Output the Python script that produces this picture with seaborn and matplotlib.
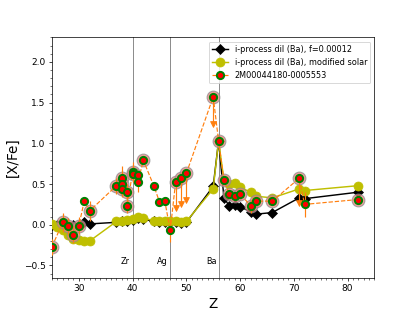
import numpy as np
import pandas as pd
import matplotlib
matplotlib.use("Agg")
import matplotlib.pyplot as plt
import seaborn as sns
from matplotlib.ticker import MultipleLocator

# ---- model data ----
z_model = [25, 26, 27, 28, 29, 30, 31, 32, 37, 38, 39, 40, 41, 42, 44, 45, 46, 47, 48,
           49, 50, 55, 56, 57, 58, 59, 60, 62, 63, 66, 71, 72, 82]
model_f = [0.00, 0.00, 0.02, 0.00, 0.00, 0.00, 0.03, 0.01, 0.03, 0.04, 0.05, 0.06, 0.08,
           0.07, 0.04, 0.03, 0.03, 0.03, 0.03, 0.02, 0.03, 0.47, 1.03, 0.33, 0.23, 0.24,
           0.22, 0.16, 0.13, 0.15, 0.33, 0.32, 0.40]
model_solar = [0.01, -0.03, -0.07, -0.13, -0.17, -0.19, -0.20, -0.20, 0.04, 0.05, 0.06,
               0.07, 0.09, 0.08, 0.05, 0.04, 0.04, 0.04, 0.04, 0.03, 0.04, 0.44, 1.03,
               0.55, 0.50, 0.51, 0.46, 0.40, 0.35, 0.33, 0.44, 0.42, 0.48]

# ---- observed star ----
z_obs = [25, 27, 28, 29, 30, 31, 32, 37, 38, 38, 38, 39, 39, 40, 40, 41, 41, 42, 44, 45,
         46, 47, 48, 49, 50, 55, 56, 57, 58, 59, 60, 62, 63, 66, 71, 72, 82]
xfe_obs = [-0.27, 0.03, -0.02, -0.12, -0.01, 0.29, 0.17, 0.48, 0.57, 0.50, 0.44, 0.40,
           0.23, 0.65, 0.62, 0.61, 0.53, 0.79, 0.47, 0.28, 0.29, -0.07, 0.52, 0.58, 0.63,
           1.57, 1.03, 0.55, 0.38, 0.35, 0.38, 0.23, 0.29, 0.29, 0.57, 0.25, 0.31]
err_obs = [0.10, 0.12, 0.10, 0.10, 0.10, 0.00, 0.12, 0.10, 0.15, 0.10, 0.10, 0.10, 0.08,
           0.12, 0.10, 0.00, 0.13, 0.00, 0.00, 0.00, 0.00, 0.14, 0.00, 0.00, 0.00, 0.00,
           0.05, 0.05, 0.05, 0.05, 0.05, 0.08, 0.05, 0.05, 0.00, 0.15, 0.05]
halo_obs = [1, 1, 1, 1, 1, 0, 1, 1, 1, 1, 1, 1, 1, 1, 1, 0, 0, 1, 0, 0, 0, 0, 1, 1, 1,
            1, 1, 1, 1, 1, 1, 1, 1, 1, 1, 0, 1]
# upper limits
z_ul = [48, 49, 50, 55, 71]
xfe_ul = [0.52, 0.58, 0.63, 1.57, 0.57]
len_ul = [0.32, 0.32, 0.32, 0.33, 0.30]

elem_z = [40, 47, 56]
elem_lab = ["Zr", "Ag", "Ba"]

fig, ax = plt.subplots(figsize=(6.4, 4.8), dpi=65)

for z in elem_z:
    ax.axvline(z, color="0.45", lw=0.9, zorder=1)
for z, lab in zip(elem_z, elem_lab):
    ax.text(z - 1.4, -0.48, lab, ha="center", va="baseline", fontsize=9)

dm = pd.DataFrame({"Z": z_model, "f": model_f, "solar": model_solar})
sns.lineplot(data=dm, x="Z", y="f", ax=ax, color="black", marker="D", markersize=8,
             markeredgecolor="black", lw=1.6, label="i-process dil (Ba), f=0.00012",
             zorder=3)
sns.lineplot(data=dm, x="Z", y="solar", ax=ax, color="y", marker="o", markersize=10,
             markeredgecolor="y", lw=1.6, label="i-process dil (Ba), modified solar",
             zorder=4)

do = pd.DataFrame({"Z": z_obs, "v": xfe_obs, "e": err_obs, "h": halo_obs})
dh = do[do["h"] == 1]
sns.scatterplot(data=dh, x="Z", y="v", ax=ax, s=200, color="lightcoral",
                edgecolor="0.55", linewidth=1.2, alpha=0.75, zorder=5, legend=False)

ax.errorbar(z_ul, xfe_ul, yerr=[len_ul, [0] * len(z_ul)], fmt="none", ecolor="C1",
            elinewidth=1.3, zorder=5)
ax.scatter(np.array(z_ul), np.array(xfe_ul) - np.array(len_ul), marker="v", s=40,
           color="C1", zorder=5)

ax.errorbar(do["Z"], do["v"], yerr=do["e"], fmt="o--", color="C1", ecolor="C1",
            elinewidth=1.3, lw=1.3, markerfacecolor="red", markeredgecolor="green",
            markeredgewidth=2.2, markersize=8, zorder=6, label="2M00044180-0005553")

ax.set_xlim(25, 85)
ax.set_ylim(-0.65, 2.3)
ax.xaxis.set_major_locator(MultipleLocator(10))
ax.xaxis.set_minor_locator(MultipleLocator(1))
ax.yaxis.set_major_locator(MultipleLocator(0.5))
ax.yaxis.set_minor_locator(MultipleLocator(0.1))
ax.set_xlabel("Z", fontsize=15)
ax.set_ylabel("[X/Fe]", fontsize=15)
ax.legend(loc="upper right", fontsize=9)

fig.savefig("out.png", dpi=65)
